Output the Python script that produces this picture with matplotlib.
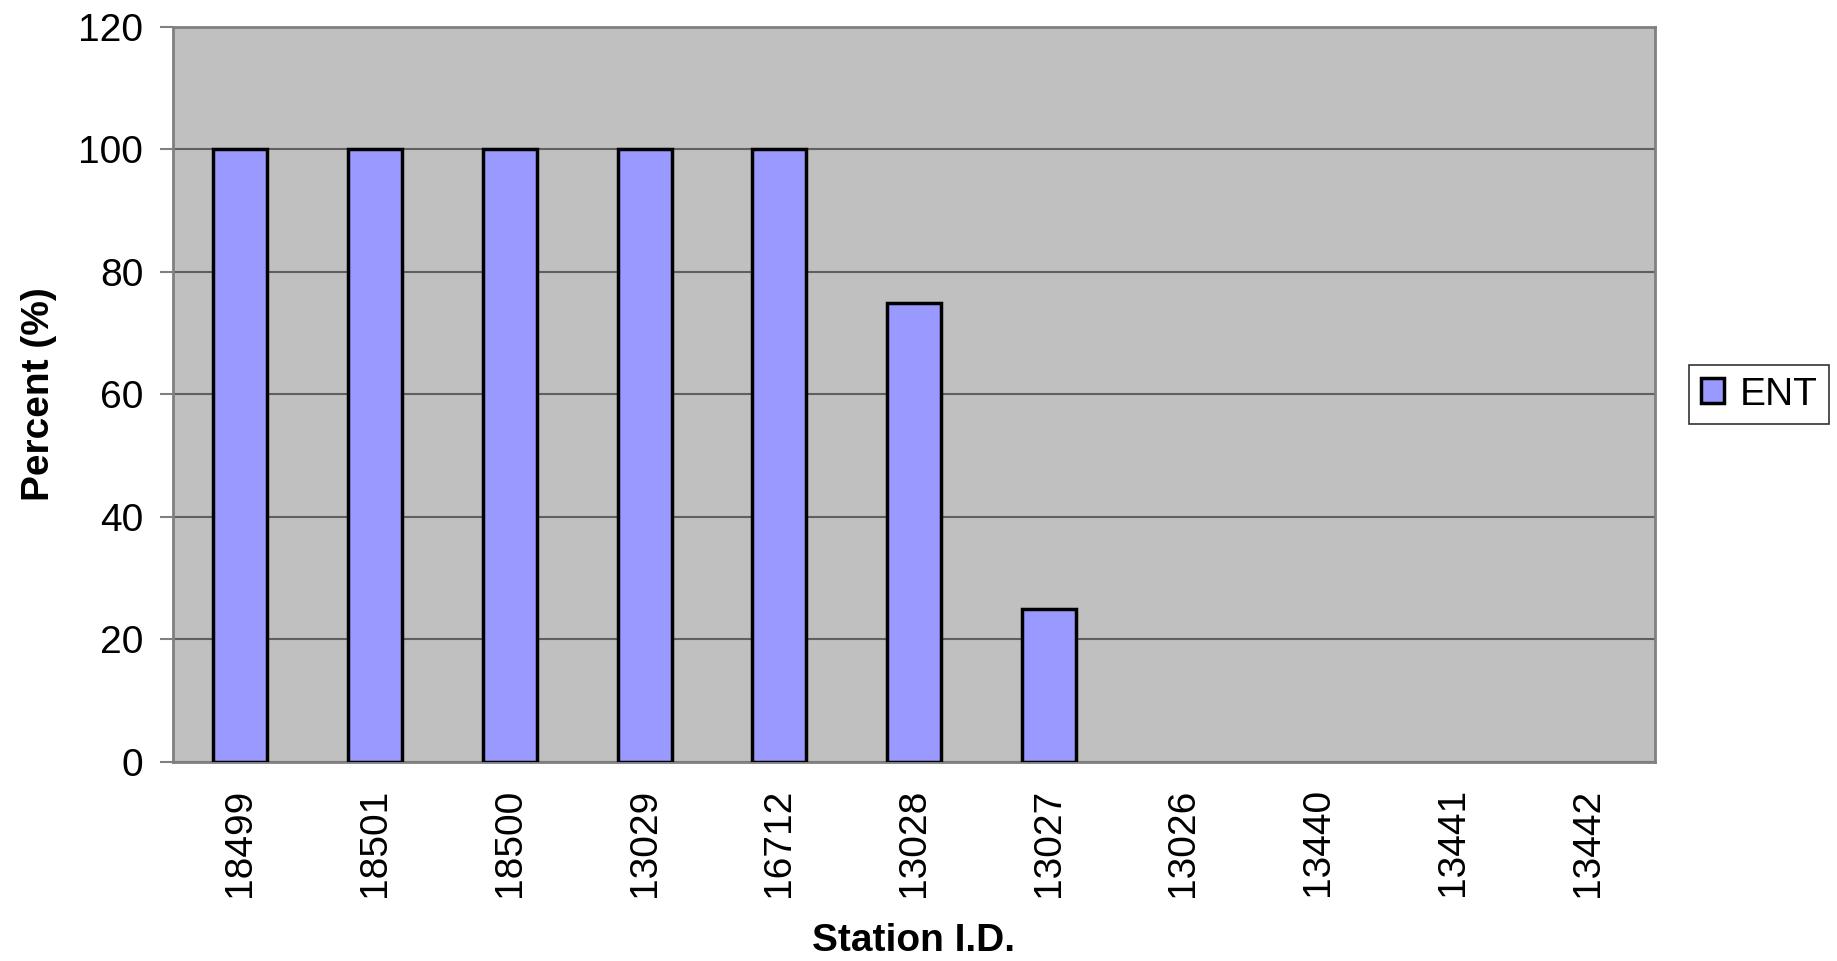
import matplotlib
matplotlib.use('Agg')
import numpy as np
import matplotlib.pyplot as plt

plt.rcParams['font.family'] = ['Liberation Sans', 'DejaVu Sans']

STATIONS = ['18499', '18501', '18500', '13029', '16712', '13028',
            '13027', '13026', '13440', '13441', '13442']
ENT_PERCENT = [100, 100, 100, 100, 100, 75, 25, 0, 0, 0, 0]

Y_TICKS = [0, 20, 40, 60, 80, 100, 120]

BAR_COLOUR = '#9999FF'
PLOT_BG = '#C0C0C0'
GRID_COLOUR = '#606060'
FRAME_COLOUR = '#808080'


def main():
    fig = plt.figure(figsize=(18.37, 9.61), dpi=100)
    ax = fig.add_axes([0.0942, 0.2071, 0.8067, 0.7648])
    ax.set_facecolor(PLOT_BG)

    x = np.arange(len(STATIONS))
    # empty stations get no outline, so nothing shows on the baseline
    edges = ['black' if v > 0 else 'none' for v in ENT_PERCENT]
    ax.bar(x, ENT_PERCENT, width=0.4, color=BAR_COLOUR, edgecolor=edges,
           linewidth=2.5, label='ENT', zorder=3)

    ax.set_xlim(-0.5, len(STATIONS) - 0.5)
    ax.set_ylim(0, 120)
    ax.set_yticks(Y_TICKS)
    ax.yaxis.grid(True, color=GRID_COLOUR, linewidth=1.5, zorder=1)
    ax.set_axisbelow(True)

    ax.set_xticks(x)
    ax.set_xticklabels(STATIONS, rotation=90, fontsize=28)
    ax.tick_params(axis='x', length=0, pad=19)
    ax.tick_params(axis='y', labelsize=28, length=9.5, width=1.5,
                   color=FRAME_COLOUR, pad=12)

    for side in ['left', 'right', 'top', 'bottom']:
        ax.spines[side].set_color(FRAME_COLOUR)
        ax.spines[side].set_linewidth(2)

    ax.set_ylabel('Percent (%)', fontsize=28, fontweight='bold', labelpad=15)
    ax.set_xlabel('Station I.D.', fontsize=28, fontweight='bold', labelpad=19)

    leg = ax.legend(loc='center left', bbox_to_anchor=(1689 / 1837, 1 - 394.5 / 961),
                    bbox_transform=fig.transFigure, fontsize=28, frameon=True,
                    fancybox=False, handlelength=0.6, handleheight=0.6,
                    handletextpad=0.4, borderpad=0.3, borderaxespad=0)
    leg.get_frame().set_edgecolor('black')
    leg.get_frame().set_linewidth(1.2)
    leg.legend_handles[0].set_edgecolor('black')
    leg.legend_handles[0].set_linewidth(2.5)

    fig.savefig('out.png', dpi=100)


if __name__ == '__main__':
    main()
